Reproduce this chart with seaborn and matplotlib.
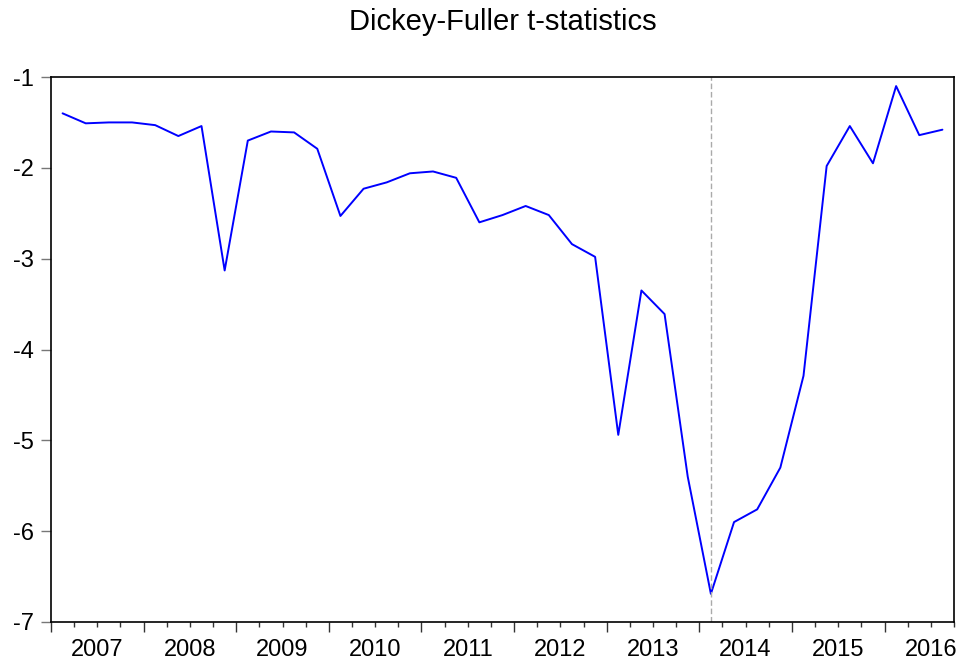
import numpy as np
import pandas as pd
import matplotlib
matplotlib.use('Agg')
import matplotlib.pyplot as plt
import seaborn as sns

# quarterly Dickey-Fuller t-statistics, 2007Q1 - 2016Q3
quarters = pd.period_range('2007Q1', '2016Q3', freq='Q')
tstats = [-1.40, -1.51, -1.50, -1.50, -1.53, -1.65, -1.54, -3.13,
          -1.70, -1.60, -1.61, -1.79, -2.53, -2.23, -2.16, -2.06,
          -2.04, -2.11, -2.60, -2.52, -2.42, -2.52, -2.84, -2.98,
          -4.94, -3.35, -3.61, -5.40, -6.69, -5.90, -5.76, -5.30,
          -4.29, -1.98, -1.54, -1.95, -1.10, -1.64, -1.58]
break_quarter = pd.Period('2014Q1', freq='Q')
years = np.arange(2007, 2017)

# place each quarter at its mid point on a fractional-year axis
def qpos(p):
    return p.year + (p.quarter - 0.5) / 4

df = pd.DataFrame({'x': [qpos(p) for p in quarters], 't': tstats})

sns.set_style('ticks')
plt.rcParams['font.family'] = ['Liberation Sans', 'DejaVu Sans']
plt.rcParams['text.color'] = 'black'
plt.rcParams['xtick.labelcolor'] = 'black'
plt.rcParams['ytick.labelcolor'] = 'black'

fig = plt.figure(figsize=(9.67, 6.67), dpi=100)
ax = fig.add_axes([51 / 967, 45 / 667, 903 / 967, 545 / 667])

sns.lineplot(data=df, x='x', y='t', color='#0000FF', linewidth=1.4, ax=ax)
ax.axvline(qpos(break_quarter), color='#AAAAAA', linestyle=(0, (4, 2)), linewidth=1.0)

ax.set_xlim(2007, qpos(quarters[-1]) + 0.125)
ax.set_ylim(-7, -1)
ax.set_yticks(np.arange(-7, 0))
ax.set_yticklabels([str(v) for v in range(-7, 0)])
ax.tick_params(axis='y', length=7, width=1, color='#777777', pad=5, labelsize=17,
               labelcolor='black')

# year ticks long, quarter ticks short, labels centered under each year
ax.set_xticks(years)
ax.set_xticklabels([])
qticks = np.arange(2007, 2016.76, 0.25)
ax.set_xticks([q for q in qticks if q % 1 != 0], minor=True)
ax.tick_params(axis='x', which='major', length=7.5, width=1, color='#333333')
ax.tick_params(axis='x', which='minor', length=3.5, width=1, color='#333333')

sec = ax.secondary_xaxis('bottom')
sec.set_xticks(years + 0.5)
sec.set_xticklabels([str(y) for y in years])
sec.tick_params(length=0, pad=12, labelsize=17, labelcolor='black')
sec.spines['bottom'].set_visible(False)

for s in ax.spines.values():
    s.set_color('black')
    s.set_linewidth(1.2)

ax.set_xlabel('')
ax.set_ylabel('')
ax.set_title('Dickey-Fuller t-statistics', fontsize=21, pad=34, color='black')

fig.savefig('out.png', dpi=100)
